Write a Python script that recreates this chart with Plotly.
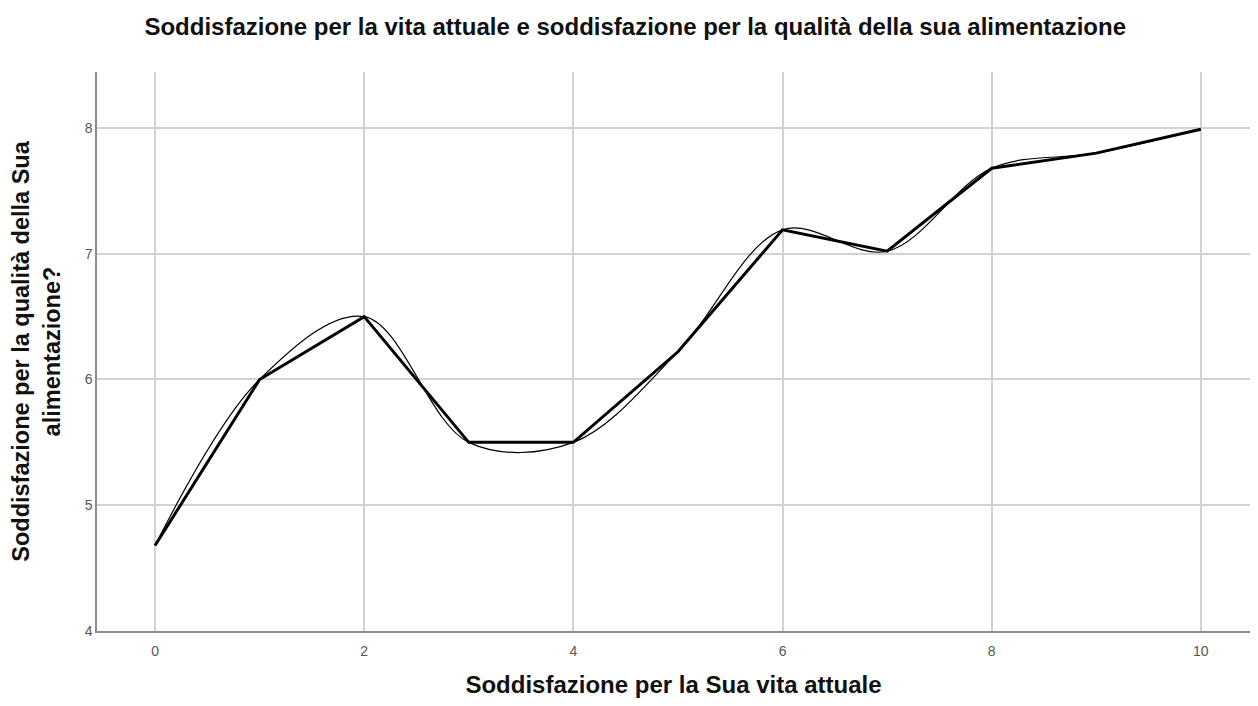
import plotly.graph_objects as go

x_vals = [0, 1, 2, 3, 4, 5, 6, 7, 8, 9, 10]
y_vals = [4.68, 6.0, 6.5, 5.5, 5.5, 6.22, 7.19, 7.02, 7.68, 7.80, 7.99]

x_ticks = [0, 2, 4, 6, 8, 10]
y_ticks = [4, 5, 6, 7, 8]

title_text = "Soddisfazione per la vita attuale e soddisfazione per la qualità della sua alimentazione"
x_title = "Soddisfazione per la Sua vita attuale"
y_title = "Soddisfazione per la qualità della Sua<br>alimentazione?"

font_family = "Liberation Sans, Arial, sans-serif"

fig = go.Figure()
fig.add_trace(go.Scatter(
    x=x_vals, y=y_vals, mode="lines",
    line=dict(color="black", width=1.2, shape="spline", smoothing=1.0),
    showlegend=False, hoverinfo="skip"))
fig.add_trace(go.Scatter(
    x=x_vals, y=y_vals, mode="lines",
    line=dict(color="black", width=3),
    showlegend=False))

# body has an 8px default margin in the page -> figure 1242x690
fig.update_layout(
    width=1242, height=690,
    paper_bgcolor="white", plot_bgcolor="white",
    margin=dict(l=89, r=0, t=64, b=67, autoexpand=False),
    title=dict(text="<b>" + title_text + "</b>", x=0.505, xanchor="center",
               xref="container", yref="container",
               y=1 - 19 / 690, yanchor="middle",
               font=dict(family=font_family, size=24, color="#111111")),
    font=dict(family=font_family, color="#333333"),
)
fig.update_xaxes(
    range=[-0.555, 10.47], tickvals=x_ticks, automargin=False,
    showgrid=True, gridcolor="#d2d2d2", gridwidth=1.5,
    showline=True, linecolor="#8c8c8c", linewidth=1.5,
    zeroline=False, ticks="", ticklen=0, ticklabelstandoff=6,
    tickfont=dict(size=14, color="#555555"),
    title=dict(text="<b>" + x_title + "</b>", standoff=32,
               font=dict(family=font_family, size=24, color="#111111")),
)
fig.update_yaxes(
    range=[4, 8.445], tickvals=y_ticks, automargin=False,
    showgrid=True, gridcolor="#d2d2d2", gridwidth=1.5,
    showline=True, linecolor="#8c8c8c", linewidth=1.5,
    zeroline=False, ticks="", ticklen=0,
    tickfont=dict(size=14, color="#555555"),
    title=dict(text="<b>" + y_title + "</b>", standoff=18,
               font=dict(family=font_family, size=23.5, color="#111111")),
)

fig.write_html("out.html")
